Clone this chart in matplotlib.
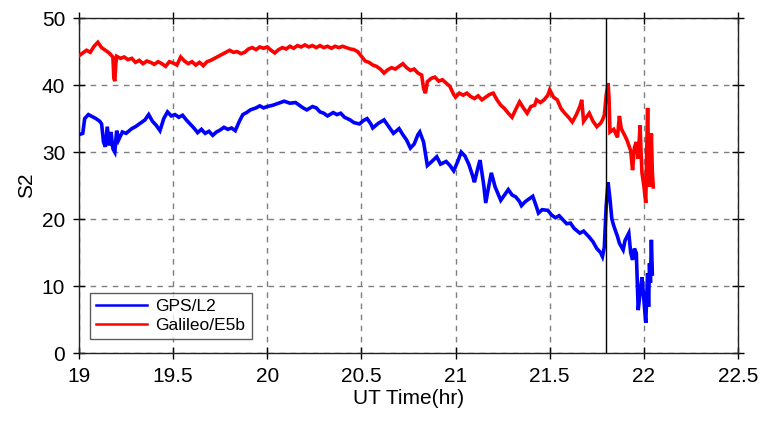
import matplotlib
matplotlib.use("Agg")
import matplotlib.pyplot as plt

plt.rcParams['font.family'] = ['Liberation Sans', 'DejaVu Sans']

gps_t = [19.00, 19.02, 19.03, 19.05, 19.07, 19.09, 19.11, 19.12, 19.13, 19.14, 19.15, 19.16, 19.17, 19.18,
         19.19, 19.20, 19.21, 19.23, 19.25, 19.28, 19.30, 19.32, 19.35, 19.37, 19.39, 19.41, 19.43, 19.45,
         19.47, 19.49, 19.51, 19.53, 19.55, 19.57, 19.59, 19.61, 19.63, 19.65, 19.67, 19.69, 19.71, 19.73,
         19.75, 19.77, 19.79, 19.81, 19.83, 19.85, 19.87, 19.89, 19.91, 19.94, 19.96, 19.98, 20.00, 20.03,
         20.06, 20.09, 20.12, 20.15, 20.17, 20.19, 20.21, 20.24, 20.26, 20.28, 20.30, 20.32, 20.35, 20.37,
         20.39, 20.41, 20.44, 20.46, 20.49, 20.51, 20.53, 20.55, 20.56, 20.59, 20.62, 20.64, 20.67, 20.70,
         20.72, 20.74, 20.76, 20.78, 20.80, 20.81, 20.83, 20.85, 20.87, 20.90, 20.92, 20.95, 20.97, 20.99,
         21.01, 21.03, 21.05, 21.07, 21.09, 21.10, 21.12, 21.13, 21.15, 21.16, 21.18, 21.19, 21.21, 21.24,
         21.26, 21.28, 21.30, 21.32, 21.34, 21.35, 21.37, 21.39, 21.41, 21.43, 21.44, 21.46, 21.49, 21.51,
         21.53, 21.55, 21.57, 21.59, 21.61, 21.63, 21.66, 21.68, 21.71, 21.73, 21.75, 21.77, 21.78, 21.79,
         21.80, 21.81, 21.82, 21.83, 21.84, 21.86, 21.87, 21.89, 21.90, 21.92, 21.93, 21.94, 21.95, 21.96,
         21.97, 21.98, 21.99, 22.00, 22.01, 22.02, 22.025, 22.03, 22.035, 22.04, 22.045]
gps_s2 = [32.6, 32.8, 35.0, 35.6, 35.3, 35.0, 34.6, 34.2, 31.5, 30.8, 33.8, 31.0, 33.0, 30.5,
          30.0, 33.2, 31.8, 33.0, 32.8, 33.5, 33.8, 34.2, 34.8, 35.6, 34.6, 34.0, 33.2, 35.0,
          36.0, 35.4, 35.6, 35.2, 35.5, 34.8, 34.2, 33.6, 32.9, 33.4, 32.8, 33.1, 32.5, 33.0,
          33.3, 33.7, 33.4, 33.6, 33.2, 34.5, 35.6, 35.9, 36.3, 36.6, 36.9, 36.6, 36.8, 37.0,
          37.3, 37.6, 37.3, 37.4, 37.0, 36.6, 36.3, 36.8, 36.6, 36.0, 35.8, 35.4, 35.9, 35.6,
          35.8, 35.2, 34.8, 34.4, 34.2, 34.7, 35.0, 34.2, 33.6, 34.3, 34.8, 34.0, 32.8, 33.5,
          32.6, 31.8, 30.6, 31.2, 32.6, 33.0, 31.5, 28.0, 28.5, 29.3, 28.2, 28.6, 28.0, 27.2,
          28.5, 30.0, 29.4, 28.2, 26.5, 25.5, 27.8, 28.8, 25.0, 22.4, 25.5, 26.9, 24.8, 22.8,
          23.6, 24.4, 23.6, 23.3, 22.6, 22.0, 22.6, 23.0, 23.4, 21.8, 20.9, 21.4, 21.3, 20.6,
          20.2, 20.5, 19.9, 19.3, 19.4, 18.6, 17.9, 18.2, 17.3, 16.6, 15.6, 15.0, 14.4, 15.8,
          22.0, 25.5, 23.0, 20.0, 19.0, 17.4, 16.4, 15.4, 16.8, 17.9, 15.0, 13.9, 15.6, 14.9,
          6.4, 9.0, 11.3, 8.0, 4.5, 11.9, 6.9, 13.4, 10.5, 16.9, 11.8]

gal_t = [19.00, 19.02, 19.04, 19.06, 19.08, 19.10, 19.12, 19.14, 19.16, 19.18, 19.185, 19.19, 19.195, 19.20,
         19.22, 19.24, 19.26, 19.28, 19.30, 19.32, 19.34, 19.36, 19.38, 19.40, 19.42, 19.44, 19.46, 19.48,
         19.50, 19.52, 19.54, 19.56, 19.58, 19.60, 19.62, 19.64, 19.66, 19.68, 19.70, 19.72, 19.74, 19.76,
         19.78, 19.80, 19.82, 19.84, 19.86, 19.88, 19.90, 19.92, 19.94, 19.96, 19.98, 20.00, 20.02, 20.04,
         20.06, 20.08, 20.10, 20.12, 20.14, 20.16, 20.18, 20.20, 20.22, 20.24, 20.26, 20.28, 20.30, 20.32,
         20.34, 20.36, 20.38, 20.40, 20.42, 20.44, 20.46, 20.48, 20.50, 20.52, 20.54, 20.56, 20.58, 20.60,
         20.62, 20.64, 20.66, 20.68, 20.70, 20.72, 20.74, 20.76, 20.78, 20.80, 20.82, 20.83, 20.84, 20.85,
         20.87, 20.89, 20.91, 20.93, 20.95, 20.97, 20.99, 21.00, 21.02, 21.04, 21.06, 21.08, 21.10, 21.12,
         21.14, 21.16, 21.18, 21.20, 21.22, 21.24, 21.26, 21.28, 21.30, 21.32, 21.34, 21.36, 21.38, 21.40,
         21.42, 21.43, 21.45, 21.47, 21.49, 21.50, 21.52, 21.54, 21.56, 21.58, 21.60, 21.62, 21.64, 21.66,
         21.67, 21.68, 21.70, 21.71, 21.73, 21.75, 21.77, 21.78, 21.79, 21.80, 21.81, 21.815, 21.82, 21.84,
         21.86, 21.87, 21.88, 21.90, 21.91, 21.93, 21.94, 21.95, 21.96, 21.97, 21.98, 21.985, 21.99, 22.00,
         22.01, 22.015, 22.02, 22.025, 22.03, 22.04, 22.045, 22.05]
gal_s2 = [44.4, 44.8, 45.2, 44.9, 45.8, 46.4, 45.6, 45.2, 44.8, 44.2, 41.0, 40.6, 43.0, 44.3,
          44.0, 44.2, 43.8, 44.0, 43.4, 43.7, 43.2, 43.6, 43.4, 43.1, 43.5, 43.2, 42.8, 43.5,
          43.3, 43.0, 44.2, 43.6, 43.2, 43.5, 43.0, 43.4, 42.9, 43.5, 43.7, 44.0, 44.3, 44.6,
          44.9, 45.2, 44.9, 45.0, 44.7, 44.9, 45.4, 45.6, 45.3, 45.7, 45.5, 45.7, 45.2, 44.8,
          45.3, 45.6, 45.4, 45.8, 45.5, 45.9, 45.7, 46.0, 45.7, 45.9, 45.6, 45.9, 45.6, 45.8,
          45.5, 45.8, 45.6, 45.8, 45.6, 45.4, 45.3, 45.0, 44.3, 43.6, 43.4, 43.0, 42.8, 42.4,
          41.8, 42.3, 42.6, 42.4, 42.8, 43.2, 42.6, 42.2, 42.4, 41.8, 41.5, 39.5, 38.8, 40.5,
          41.0, 41.2, 40.6, 40.8, 40.3, 39.8, 38.6, 38.2, 38.8, 38.5, 38.8, 38.3, 38.0, 38.4,
          37.8, 38.2, 38.6, 38.8, 37.8, 37.0, 36.5, 35.8, 35.2, 36.4, 37.5, 36.6, 35.8, 36.8,
          37.0, 37.8, 37.4, 37.8, 38.5, 39.3, 38.2, 37.8, 36.5, 35.8, 35.2, 34.5, 35.5, 36.8,
          37.8, 34.6, 35.4, 35.8, 34.6, 33.8, 34.3, 34.8, 35.5, 38.5, 40.3, 38.0, 33.0, 33.4,
          32.2, 35.4, 33.5, 32.4, 31.8, 30.2, 27.3, 30.7, 31.5, 29.0, 34.0, 30.0, 26.9, 25.0,
          22.4, 30.0, 36.6, 29.0, 24.8, 32.8, 27.0, 24.8]

x_ticks = [19, 19.5, 20, 20.5, 21, 21.5, 22, 22.5]
x_labels = ['19', '19.5', '20', '20.5', '21', '21.5', '22', '22.5']
y_ticks = [0, 10, 20, 30, 40, 50]
event_time = 21.8

fig = plt.figure(figsize=(7.62, 4.22), dpi=100)
ax = fig.add_axes([0.1037, 0.1635, 0.8648, 0.7935])

ax.plot(gps_t, gps_s2, color='#0000ff', lw=2.6, label='GPS/L2', zorder=3, solid_joinstyle='miter')
ax.plot(gal_t, gal_s2, color='#ff0000', lw=2.6, label='Galileo/E5b', zorder=3, solid_joinstyle='miter')
ax.axvline(event_time, color='black', lw=1.0, zorder=4)

ax.set_xlim(19, 22.5)
ax.set_ylim(0, 50)
ax.set_xticks(x_ticks)
ax.set_xticklabels(x_labels)
ax.set_yticks(y_ticks)
ax.grid(True, color='#7f7f7f', linestyle=(0, (4, 4)), lw=1.0)
ax.tick_params(direction='inout', length=8, width=1.0, labelsize=15, top=True, right=True,
               labeltop=False, labelright=False, pad=6)
for s in ax.spines.values():
    s.set_linewidth(1.0)
    s.set_color('#222222')

ax.set_xlabel('UT Time(hr)', fontsize=15, labelpad=2)
ax.set_ylabel('S2', fontsize=15, labelpad=4)

leg = ax.legend(loc='lower left', bbox_to_anchor=(0.012, 0.03), fontsize=12.5, frameon=True,
                fancybox=False, edgecolor='#333333', handlelength=2.9, borderpad=0.35,
                labelspacing=0.25, handletextpad=0.5, borderaxespad=0.2)
leg.get_frame().set_linewidth(1.0)
for line in leg.get_lines():
    line.set_linewidth(1.8)

fig.savefig('out.png', dpi=100)
